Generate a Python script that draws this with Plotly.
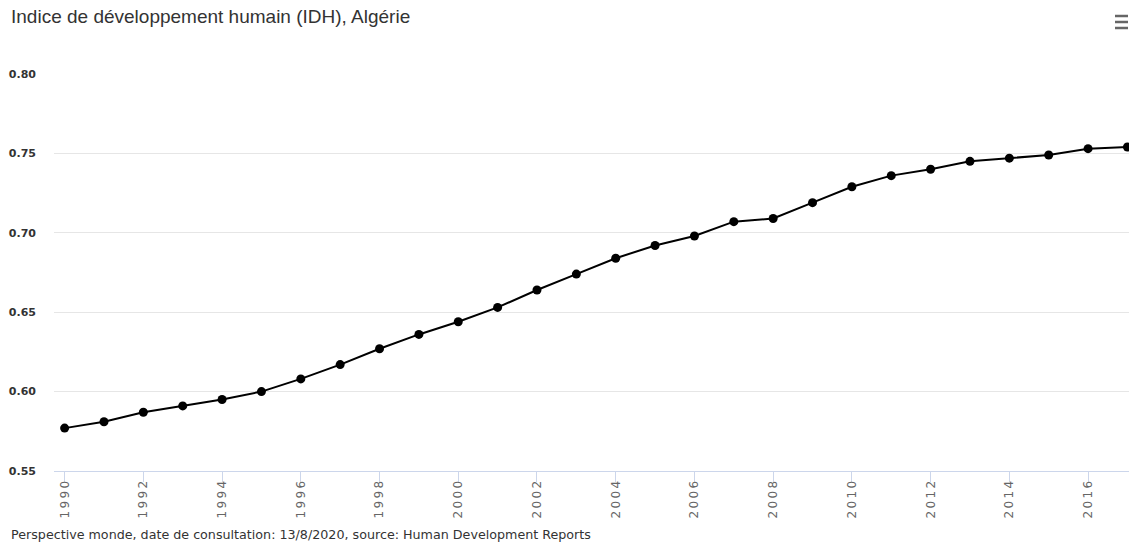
import plotly.graph_objects as go

# Indice de développement humain, Algérie (1990-2017)
years = list(range(1990, 2018))
idh = [0.577, 0.581, 0.587, 0.591, 0.595, 0.600, 0.608, 0.617, 0.627, 0.636,
       0.644, 0.653, 0.664, 0.674, 0.684, 0.692, 0.698, 0.707, 0.709, 0.719,
       0.729, 0.736, 0.740, 0.745, 0.747, 0.749, 0.753, 0.754]
x_ticks = list(range(1990, 2018, 2))
y_ticks = [0.55, 0.60, 0.65, 0.70, 0.75, 0.80]

title_text = "Indice de développement humain (IDH), Algérie"
credit_text = "Perspective monde, date de consultation: 13/8/2020, source: Human Development Reports"

W, H = 1129, 549
L, R, T, B = 54, 0, 74, 78


def spaced(label):
    # widen the rotated year labels with thin spaces between digits
    return "\u2009".join(label)


fig = go.Figure()
fig.add_trace(go.Scatter(
    x=years, y=idh, mode="lines+markers",
    line=dict(color="#000000", width=2),
    marker=dict(color="#000000", size=9),
    cliponaxis=False, showlegend=False,
))

fig.update_layout(
    width=W, height=H,
    margin=dict(l=L, r=R, t=T, b=B),
    paper_bgcolor="#ffffff", plot_bgcolor="#ffffff",
    xaxis=dict(
        range=[1989.73, 2017.04],
        tickvals=x_ticks, ticktext=[spaced(str(v)) for v in x_ticks],
        tickangle=-90, ticks="outside", ticklen=10, tickcolor="#ccd6eb",
        ticklabelstandoff=-6,
        tickfont=dict(family="DejaVu Sans", size=12, color="#666666"),
        showline=True, linecolor="#ccd6eb", linewidth=1,
        showgrid=False, zeroline=False, fixedrange=True,
    ),
    yaxis=dict(
        range=[0.55, 0.80],
        tickvals=y_ticks, ticktext=[f"{v:.2f}" for v in y_ticks],
        tickfont=dict(family="DejaVu Sans", size=11, color="#333333", weight=600),
        ticks="", ticklabelstandoff=17,
        showgrid=True, gridcolor="#e6e6e6", gridwidth=1,
        showline=False, zeroline=False, fixedrange=True,
    ),
    annotations=[
        dict(text=title_text, xref="paper", yref="paper",
             x=-(L - 9) / (W - L - R), y=1 + (T - 16) / (H - T - B),
             xanchor="left", yanchor="middle", showarrow=False,
             font=dict(family="Liberation Sans", size=19, color="#333333")),
        dict(text=credit_text, xref="paper", yref="paper",
             x=-(L - 9) / (W - L - R), y=-(534 - T - (H - T - B)) / (H - T - B),
             xanchor="left", yanchor="middle", showarrow=False,
             font=dict(family="DejaVu Sans", size=12.7, color="#333333")),
    ],
)

# Menu icon (three bars) in the top-right corner
pw, ph = W - L - R, H - T - B
for yy in (16, 22, 28):
    fig.add_shape(type="line", xref="paper", yref="paper",
                  x0=(1115 - L) / pw, x1=(1128 - L) / pw,
                  y0=(H - B - yy) / ph, y1=(H - B - yy) / ph,
                  line=dict(color="#666666", width=2.5))

fig.write_html("out.html", config={"displayModeBar": False})
